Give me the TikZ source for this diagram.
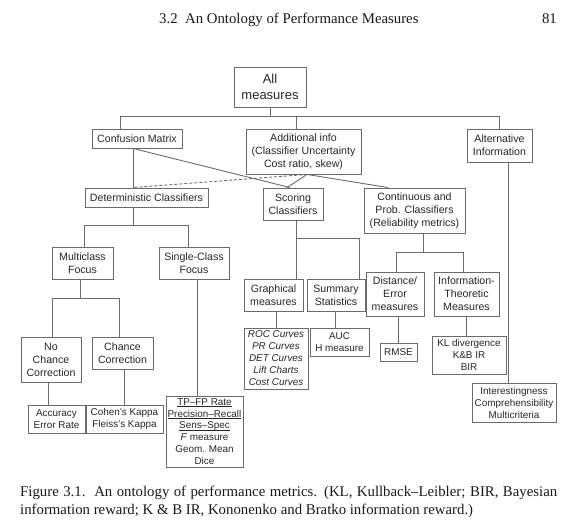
\documentclass[tikz,border=0pt]{standalone}
\usepackage{fontspec}
\setmainfont{Liberation Serif}
\newfontfamily\diagfont[Ligatures=TeX]{Liberation Sans}
\definecolor{linegray}{gray}{0.42}
\definecolor{textdark}{gray}{0.15}
\newlength\ulw
\newcommand\ulinetxt[1]{\settowidth\ulw{#1}#1\hspace{-\ulw}\rule[-1.4pt]{\ulw}{0.5pt}}
\begin{document}
\begin{tikzpicture}[x=1pt,y=-1pt,
  box/.style={draw=linegray, line width=0.9pt, inner sep=0pt, align=center, text=textdark,
    font=\diagfont\fontsize{10.6}{13}\selectfont},
  leaf/.style={box, font=\diagfont\fontsize{9.9}{12}\selectfont},
  topbox/.style={box, font=\diagfont\fontsize{13}{16.5}\selectfont},
  conn/.style={draw=linegray, line width=0.9pt},
  dconn/.style={conn, dash pattern=on 3pt off 2pt},
  pagetext/.style={inner sep=0pt, text=black!90, font=\fontsize{14.8}{18}\selectfont}]
\useasboundingbox (0,0) rectangle (581,531);

% header
\node[pagetext, anchor=base west] (head) at (159,23) {3.2\ \ An Ontology of Performance Measures};
\node[pagetext, anchor=base east] (pnum) at (557,23) {81};

% boxes
\node[topbox, minimum width=72pt, minimum height=40pt] (allm) at (270,87) {All\\measures};
\node[box, minimum width=90pt, minimum height=19pt] (conf) at (137,138.5) {Confusion Matrix};
\node[box, minimum width=115pt, minimum height=45pt] (addi) at (303.5,151.5) {Additional info\\(Classifier Uncertainty\\Cost ratio, skew)};
\node[box, minimum width=65pt, minimum height=33pt] (alt) at (499.5,145.5) {Alternative\\Information};
\node[box, minimum width=123pt, minimum height=19pt] (det) at (146.5,197.5) {Deterministic Classifiers};
\node[box, minimum width=60pt, minimum height=32pt] (scor) at (293,204) {Scoring\\Classifiers};
\node[box, minimum width=101pt, minimum height=45pt] (cont) at (414.5,210.5) {Continuous and\\Prob. Classifiers\\(Reliability metrics)};
\node[box, minimum width=61pt, minimum height=32pt] (multi) at (82.5,263) {Multiclass\\Focus};
\node[box, minimum width=70pt, minimum height=32pt] (single) at (194,263) {Single-Class\\Focus};
\node[box, minimum width=59pt, minimum height=32pt] (graph) at (273.5,295) {Graphical\\measures};
\node[box, minimum width=58pt, minimum height=32pt] (summ) at (336,295) {Summary\\Statistics};
\node[box, minimum width=58pt, minimum height=44pt] (dist) at (395,294) {Distance/\\Error\\measures};
\node[box, minimum width=65pt, minimum height=44pt] (info) at (466.5,294) {Information-\\Theoretic\\Measures};
\node[box, minimum width=60pt, minimum height=45pt] (noch) at (51,359.5) {No\\Chance\\Correction};
\node[box, minimum width=61pt, minimum height=32pt] (chance) at (122.5,353) {Chance\\Correction};
\node[leaf, minimum width=64pt, minimum height=61pt] (roc) at (276,358.5) {\itshape ROC Curves\\\itshape PR Curves\\\itshape DET Curves\\\itshape Lift Charts\\\itshape Cost Curves};
\node[leaf, minimum width=59pt, minimum height=28pt] (auc) at (339.5,342) {AUC\\H measure};
\node[leaf, minimum width=37pt, minimum height=18pt] (rmse) at (398.5,352) {RMSE};
\node[leaf, minimum width=74pt, minimum height=38pt] (kl) at (469,355) {KL divergence\\K\&B IR\\BIR};
\node[leaf, minimum width=57pt, minimum height=28pt] (accu) at (56.5,419) {Accuracy\\Error Rate};
\node[leaf, minimum width=77pt, minimum height=28pt] (cohen) at (124.5,419) {Cohen's Kappa\\Fleiss's Kappa};
\node[leaf, font=\diagfont\fontsize{9.9}{11.8}\selectfont, minimum width=77pt, minimum height=71pt] (tpfp) at (204.5,431.5) {\ulinetxt{TP--FP Rate}\\\ulinetxt{Precision--Recall}\\\ulinetxt{Sens--Spec}\\\textit{F} measure\\Geom. Mean\\Dice};
\node[leaf, minimum width=84pt, minimum height=39pt] (inter) at (514,402.5) {Interestingness\\Comprehensibility\\Multicriteria};

% junction coordinates
\coordinate (t1) at (120,116);
\coordinate (t2) at (296,116);
\coordinate (t3) at (499,116);
\coordinate (cd) at (133,225);
\coordinate (sA) at (290,0);
\coordinate (sB) at (287,0);
\coordinate (aB) at (307,0);
\coordinate (cA) at (388,0);
\coordinate (dl) at (84,225);
\coordinate (dr) at (188,225);
\coordinate (sv) at (296,238);
\coordinate (sh) at (359,238);
\coordinate (cv) at (423,252);
\coordinate (cl) at (396,252);
\coordinate (cr) at (463,252);
\coordinate (mv) at (80,298);
\coordinate (ml) at (52,298);
\coordinate (mr) at (119,298);
\coordinate (sg) at (197,0);
\coordinate (xa) at (48,0);
\coordinate (xc) at (124,0);
\coordinate (xg) at (276,0);
\coordinate (xs) at (335,0);
\coordinate (xd) at (398,0);
\coordinate (xi) at (466,0);
\coordinate (xt) at (508,0);

% connectors
\draw[conn] (allm.south) -- (allm.south |- t1);
\draw[conn] (conf.north -| t1) -- (t1) -- (t3) -- (alt.north -| t3);
\draw[conn] (t2) -- (addi.north -| t2);
\draw[conn] (conf.south -| cd) -- (det.north -| cd);
\draw[conn] (conf.south -| cd) -- (scor.north -| sA);
\draw[dconn] (addi.south -| aB) -- (det.north -| cd);
\draw[conn] (addi.south -| aB) -- (scor.north -| sB);
\draw[conn] (addi.south -| aB) -- (cont.north -| cA);
\draw[conn] (det.south -| cd) -- (cd);
\draw[conn] (multi.north -| dl) -- (dl) -- (dr) -- (single.north -| dr);
\draw[conn] (scor.south -| sv) -- (graph.north -| sv);
\draw[conn] (sv) -- (sh) -- (summ.north -| sh);
\draw[conn] (cont.south -| cv) -- (cv);
\draw[conn] (dist.north -| cl) -- (cl) -- (cr) -- (info.north -| cr);
\draw[conn] (multi.south -| mv) -- (mv);
\draw[conn] (noch.north -| ml) -- (ml) -- (mr) -- (chance.north -| mr);
\draw[conn] (single.south -| sg) -- (tpfp.north -| sg);
\draw[conn] (noch.south -| xa) -- (accu.north -| xa);
\draw[conn] (chance.south -| xc) -- (cohen.north -| xc);
\draw[conn] (graph.south -| xg) -- (roc.north -| xg);
\draw[conn] (summ.south -| xs) -- (auc.north -| xs);
\draw[conn] (dist.south -| xd) -- (rmse.north -| xd);
\draw[conn] (info.south -| xi) -- (kl.north -| xi);
\draw[conn] (alt.south -| xt) -- (inter.north -| xt);

% caption
\node[pagetext, anchor=base west] (cap1) at (20,496) {\makebox[537pt][s]{Figure 3.1.\ \ An ontology of performance metrics. (KL, Kullback--Leibler; BIR, Bayesian}};
\node[pagetext, anchor=base west] (cap2) at (20,514) {information reward; K \& B IR, Kononenko and Bratko information reward.)};
\end{tikzpicture}
\end{document}
